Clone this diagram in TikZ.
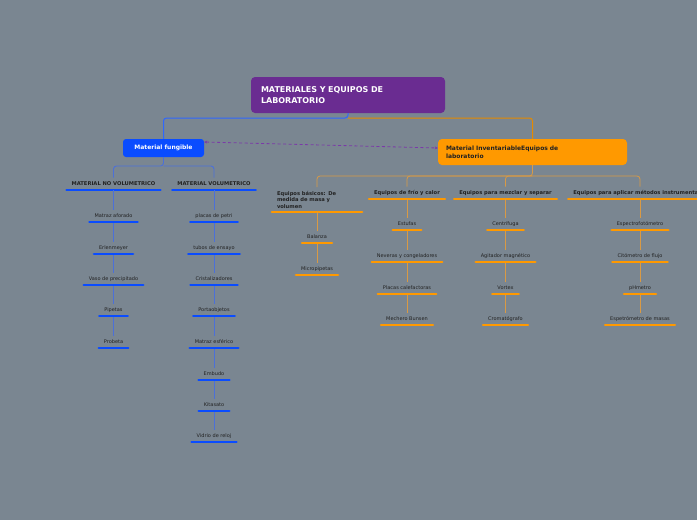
\documentclass[tikz,border=0pt]{standalone}
\usepackage{fontspec}
\setmainfont{DejaVu Sans}
\usetikzlibrary{arrows.meta}
\definecolor{bg}{HTML}{7A8691}
\definecolor{rootc}{HTML}{6A2C91}
\definecolor{bluec}{HTML}{0A4CFF}
\definecolor{bluel}{HTML}{4C70D8}
\definecolor{orac}{HTML}{FF9900}
\definecolor{oral}{HTML}{D99A45}
\definecolor{relc}{HTML}{7A3AA8}
\definecolor{txt}{HTML}{222222}
\tikzset{
  rootbox/.style={fill=rootc, rounded corners=4pt, text=white, font=\fontsize{8}{11}\selectfont\bfseries, align=left, text width=174pt, minimum width=194pt, minimum height=36pt, inner xsep=10pt},
  fungbox/.style={fill=bluec, rounded corners=3pt, text=white, font=\fontsize{6}{7}\selectfont\bfseries, minimum width=81pt, minimum height=18pt, inner sep=0pt},
  invbox/.style={fill=orac, rounded corners=4pt, text=txt, font=\fontsize{6}{8}\selectfont\bfseries, align=left, text width=173pt, minimum width=189pt, minimum height=26pt, inner xsep=8pt},
  leaf/.style={anchor=south, text=txt, font=\fontsize{5}{6}\selectfont, text height=3.8pt, text depth=1.3pt, inner xsep=5pt, inner ysep=3.5pt},
  head/.style={leaf, font=\fontsize{5.2}{6}\selectfont\bfseries},
  mhead/.style={anchor=south, text=txt, font=\fontsize{5.2}{6.6}\selectfont\bfseries, align=left, text width=80pt, inner xsep=5pt, inner ysep=3.5pt},
  bline/.style={bluec, line width=2.3pt, line cap=round},
  oline/.style={orac, line width=2.3pt, line cap=round},
  bcon/.style={bluel, line width=0.9pt},
  ocon/.style={oral, line width=0.8pt},
  rel/.style={relc, line width=0.8pt, dash pattern=on 3pt off 2.5pt, {Stealth[length=3pt,width=3pt]}-{Stealth[length=3pt,width=3pt]}},
}
\newcommand{\ul}[2]{\draw[#1] (#2.south west) -- (#2.south east);}
\begin{document}
\begin{tikzpicture}[x=1pt,y=-1pt]
\fill[bg] (0,0) rectangle (697,520);
\useasboundingbox (0,0) rectangle (697,520);
\clip (0,0) rectangle (697,520);

% main nodes
\node[rootbox] (root) at (348,95) {MATERIALES Y EQUIPOS DE\\LABORATORIO};
\node[fungbox] (fung) at (163.5,148) {Material fungible};
\node[invbox] (inv) at (532.5,152) {Material InventariableEquipos de\\laboratorio};

\coordinate (rj) at (348,118);
\draw[bluec!85!white, line width=1pt, rounded corners=3pt] (root.south) -- (rj) -| (fung.north);
\draw[orac!90!black, line width=1pt, rounded corners=3pt] (rj) -| (inv.north);

\draw[rel] ([yshift=6pt]fung.east) -- ([yshift=4pt]inv.west);

% fungible branch
\node[head] (nv) at (113.5,190) {MATERIAL NO VOLUMETRICO};
\node[head] (vo) at (214,190) {MATERIAL VOLUMETRICO};
\coordinate (fj) at (163.5,166);
\draw[bcon, rounded corners=3pt] (fung.south) -- (fj) -| (nv.north);
\draw[bcon, rounded corners=3pt] (fj) -| (vo.north);
\ul{bline}{nv} \ul{bline}{vo}

\node[leaf] (a1) at (113.5,222) {Matraz aforado};
\node[leaf] (a2) at (113.5,254) {Erlenmeyer};
\node[leaf] (a3) at (113.5,285) {Vaso de precipitado};
\node[leaf] (a4) at (113.5,316) {Pipetas};
\node[leaf] (a5) at (113.5,348) {Probeta};
\draw[bcon] (nv.south) -- (a1.north) (a1.south) -- (a2.north) (a2.south) -- (a3.north) (a3.south) -- (a4.north) (a4.south) -- (a5.north);
\foreach \n in {a1,a2,a3,a4,a5} {\ul{bline}{\n}}

\node[leaf] (b1) at (214,222) {placas de petri};
\node[leaf] (b2) at (214,254) {tubos de ensayo};
\node[leaf] (b3) at (214,285) {Cristalizadores};
\node[leaf] (b4) at (214,316) {Portaobjetos};
\node[leaf] (b5) at (214,348) {Matraz esférico};
\node[leaf] (b6) at (214,380) {Embudo};
\node[leaf] (b7) at (214,411) {Kitasato};
\node[leaf] (b8) at (214,442) {Vidrio de reloj};
\draw[bcon] (vo.south) -- (b1.north) (b1.south) -- (b2.north) (b2.south) -- (b3.north) (b3.south) -- (b4.north) (b4.south) -- (b5.north) (b5.south) -- (b6.north) (b6.south) -- (b7.north) (b7.south) -- (b8.north);
\foreach \n in {b1,b2,b3,b4,b5,b6,b7,b8} {\ul{bline}{\n}}

% inventariable branch
\node[mhead] (h1) at (317,212) {Equipos básicos: De\\medida de masa y\\volumen};
\node[head] (h2) at (407,199) {Equipos de frío y calor};
\node[head] (h3) at (505.5,199) {Equipos para mezclar y separar};
\node[head] (h4) at (640,199) {Equipos para aplicar métodos instrumentales};
\coordinate (ij) at (532.5,176);
\draw[ocon, rounded corners=3pt] (inv.south) -- (ij) -| (h1.north);
\draw[ocon, rounded corners=3pt] (ij) -| (h2.north);
\draw[ocon, rounded corners=3pt] (ij) -| (h3.north);
\draw[ocon, rounded corners=3pt] (ij) -| (h4.north);
\foreach \n in {h1,h2,h3,h4} {\ul{oline}{\n}}

\node[leaf] (c1) at (317,243) {Balanza};
\node[leaf] (c2) at (317,275) {Micropipetas};
\draw[ocon] (h1.south) -- (c1.north) (c1.south) -- (c2.north);

\node[leaf] (d1) at (407,230) {Estufas};
\node[leaf] (d2) at (407,262) {Neveras y congeladores};
\node[leaf] (d3) at (407,294) {Placas calefactoras};
\node[leaf] (d4) at (407,325) {Mechero Bunsen};
\draw[ocon] (h2.south) -- (d1.north) (d1.south) -- (d2.north) (d2.south) -- (d3.north) (d3.south) -- (d4.north);

\node[leaf] (e1) at (505.5,230) {Centrífuga};
\node[leaf] (e2) at (505.5,262) {Agitador magnético};
\node[leaf] (e3) at (505.5,294) {Vortex};
\node[leaf] (e4) at (505.5,325) {Cromatógrafo};
\draw[ocon] (h3.south) -- (e1.north) (e1.south) -- (e2.north) (e2.south) -- (e3.north) (e3.south) -- (e4.north);

\node[leaf] (f1) at (640,230) {Espectrofotómetro};
\node[leaf] (f2) at (640,262) {Citómetro de flujo};
\node[leaf] (f3) at (640,294) {pHmetro};
\node[leaf] (f4) at (640,325) {Espetrómetro de masas};
\draw[ocon] (h4.south) -- (f1.north) (f1.south) -- (f2.north) (f2.south) -- (f3.north) (f3.south) -- (f4.north);

\foreach \n in {c1,c2,d1,d2,d3,d4,e1,e2,e3,e4,f1,f2,f3,f4} {\ul{oline}{\n}}
\end{tikzpicture}
\end{document}
